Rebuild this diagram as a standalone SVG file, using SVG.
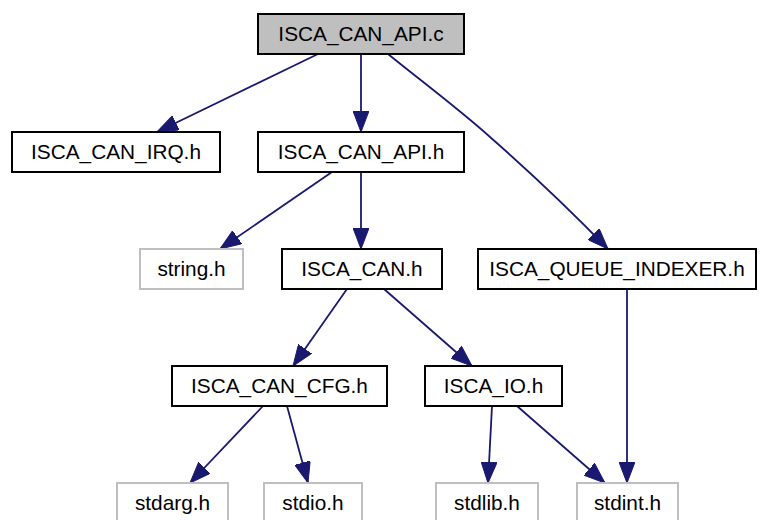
<svg xmlns="http://www.w3.org/2000/svg" width="763" height="520" viewBox="0 0 763 520">
  <style>
    .node rect { fill: #ffffff; stroke: #000000; stroke-width: 2; }
    .node.root rect { fill: #bfbfbf; }
    .node.ext rect { stroke: #bfbfbf; }
    .node text { font-family: "Liberation Sans", Arial, Helvetica, sans-serif; font-size: 20.8px; fill: #000000; text-anchor: middle; }
    .edges path { fill: none; stroke: #191970; stroke-width: 1.8; marker-end: url(#arrow); }
  </style>
  <defs>
    <marker id="arrow" viewBox="0 0 21 16" refX="21" refY="8" markerWidth="21" markerHeight="16" markerUnits="userSpaceOnUse" orient="auto">
      <path d="M0,0 L21,8 L0,16 z" fill="#191970" stroke="#191970" stroke-width="1"/>
    </marker>
  </defs>
  <rect width="763" height="520" fill="#ffffff"/>

  <g class="edges">
    <path d="M318,54 L157,132"/>
    <path d="M361,54 L361,132"/>
    <path d="M388,54 C420,80 460,110 490,137 C530,172 570,210 608,249"/>
    <path d="M332,172 L220,249"/>
    <path d="M361,172 L361,249"/>
    <path d="M347,289 L293,366"/>
    <path d="M384,289 L472,366"/>
    <path d="M263,406 L190,483"/>
    <path d="M287,406 L308,483"/>
    <path d="M492,406 L488,483"/>
    <path d="M517,406 L605,483"/>
    <path d="M627,289 L627,483"/>
  </g>

  <g id="isca_can_api_c" class="node root">
    <rect x="258" y="14" width="206" height="40"/>
    <text x="361" y="41">ISCA_CAN_API.c</text>
  </g>
  <g id="isca_can_irq_h" class="node">
    <rect x="12" y="132" width="208" height="40"/>
    <text x="116" y="159">ISCA_CAN_IRQ.h</text>
  </g>
  <g id="isca_can_api_h" class="node">
    <rect x="258" y="132" width="206" height="40"/>
    <text x="361" y="159">ISCA_CAN_API.h</text>
  </g>
  <g id="string_h" class="node ext">
    <rect x="140" y="249" width="103" height="40"/>
    <text x="191.5" y="276">string.h</text>
  </g>
  <g id="isca_can_h" class="node">
    <rect x="282" y="249" width="160" height="40"/>
    <text x="362" y="276">ISCA_CAN.h</text>
  </g>
  <g id="isca_queue_indexer_h" class="node">
    <rect x="478" y="249" width="278" height="40"/>
    <text x="617" y="276">ISCA_QUEUE_INDEXER.h</text>
  </g>
  <g id="isca_can_cfg_h" class="node">
    <rect x="172" y="366" width="215" height="40"/>
    <text x="279.5" y="393">ISCA_CAN_CFG.h</text>
  </g>
  <g id="isca_io_h" class="node">
    <rect x="425" y="366" width="137" height="40"/>
    <text x="493.5" y="393">ISCA_IO.h</text>
  </g>
  <g id="stdarg_h" class="node ext">
    <rect x="117" y="483" width="111" height="40"/>
    <text x="172.5" y="510">stdarg.h</text>
  </g>
  <g id="stdio_h" class="node ext">
    <rect x="264" y="483" width="98" height="40"/>
    <text x="313" y="510">stdio.h</text>
  </g>
  <g id="stdlib_h" class="node ext">
    <rect x="436" y="483" width="102" height="40"/>
    <text x="487" y="510">stdlib.h</text>
  </g>
  <g id="stdint_h" class="node ext">
    <rect x="577" y="483" width="101" height="40"/>
    <text x="627.5" y="510">stdint.h</text>
  </g>
</svg>
